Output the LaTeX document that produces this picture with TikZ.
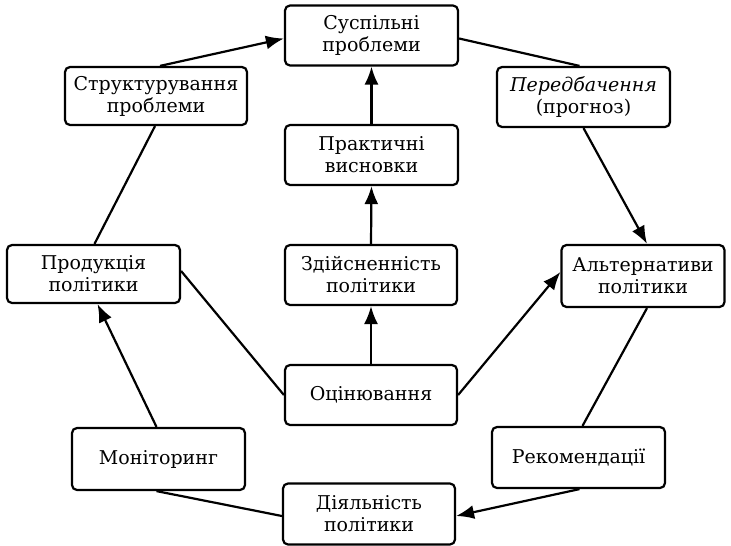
\documentclass[tikz,border=0pt]{standalone}
\usepackage{fontspec}
\setmainfont{DejaVu Serif}
\usetikzlibrary{arrows.meta}
\begin{document}
\begin{tikzpicture}[x=1pt,y=-1pt,
  box/.style={draw, line width=2.2pt, rounded corners=5pt, align=center,
    minimum width=173pt, minimum height=60pt, inner sep=0pt,
    font=\fontsize{19}{22}\selectfont},
  conn/.style={line width=2.2pt},
  arr/.style={conn, -{Latex[length=18pt,width=14pt]}}]
\useasboundingbox (0,0) rectangle (731,546);
\node[box] (sp) at (371.5,35.5) {Суспільні\\проблеми};
\node[box, minimum width=182pt, minimum height=58pt] (str) at (156,96) {Структурування\\проблеми};
\node[box] (per) at (583.5,97) {\textit{Передбачення}\\(прогноз)};
\node[box] (pr) at (371.5,155) {Практичні\\висновки};
\node[box, minimum height=58pt] (prod) at (93.5,274) {Продукція\\політики};
\node[box, minimum width=172pt] (zd) at (371,275) {Здійсненність\\політики};
\node[box, minimum width=163pt, minimum height=62pt] (alt) at (643,276) {Альтернативи\\політики};
\node[box, minimum width=172pt] (oc) at (371,395) {Оцінювання};
\node[box, minimum height=62pt] (mon) at (158.5,459) {Моніторинг};
\node[box, minimum height=61pt] (rek) at (578.5,457.5) {Рекомендації};
\node[box, minimum width=172pt, minimum height=61pt] (dy) at (369,514) {Діяльність\\політики};
% cycle
\draw[arr] ([xshift=4pt]str.north) -- ([yshift=-3pt]sp.west);
\draw[conn] ([yshift=-3pt]sp.east) -- ([xshift=-4pt]per.north);
\draw[arr] (per.south) -- ([xshift=4pt]alt.north);
\draw[conn] ([xshift=4pt]alt.south) -- ([xshift=4pt]rek.north);
\draw[arr] ([xshift=1pt]rek.south) -- ([yshift=-2pt]dy.east);
\draw[conn] ([yshift=-2pt]dy.west) -- ([xshift=-2pt]mon.south);
\draw[arr] ([xshift=-2pt]mon.north) -- ([xshift=4pt]prod.south);
\draw[conn] ([xshift=1pt]prod.north) -- ([xshift=-1pt]str.south);
% centre
\draw[conn] ([yshift=3pt]prod.east) -- (oc.west);
\draw[arr] (oc.east) -- ([yshift=4pt]alt.west);
\draw[arr] (oc.north) -- (zd.south);
\draw[arr] (zd.north) -- (pr.south);
\draw[arr] (pr.north) -- (sp.south);
\end{tikzpicture}
\end{document}
